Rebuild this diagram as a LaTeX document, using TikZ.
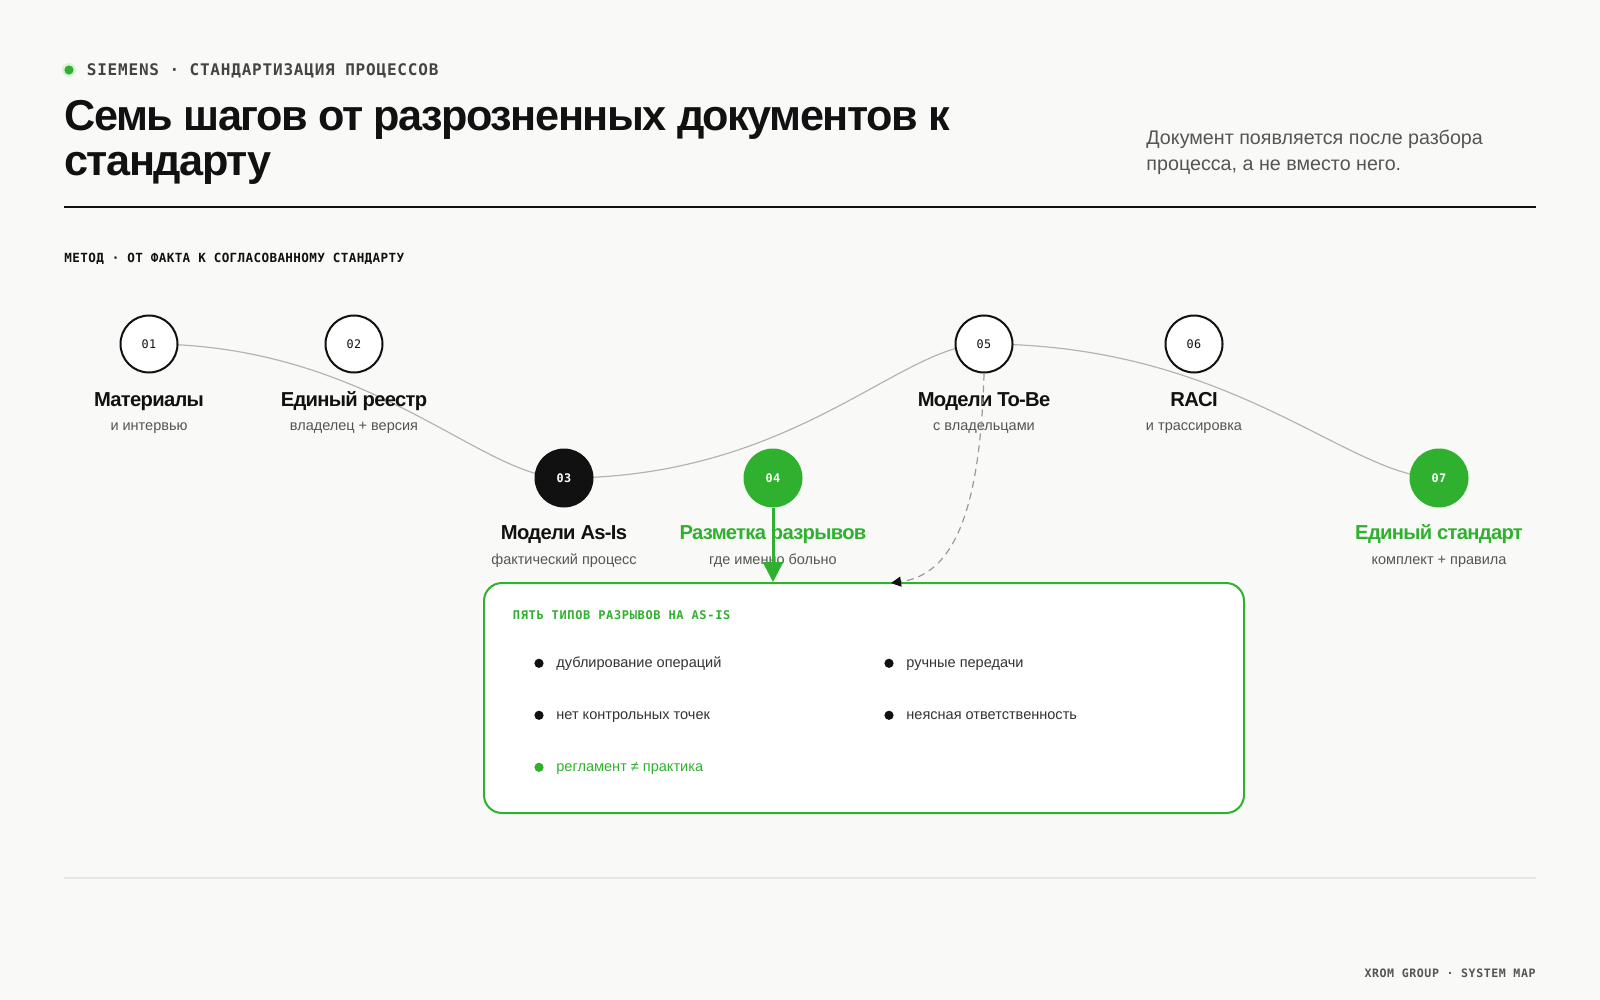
\documentclass[tikz,border=0pt]{standalone}
\usepackage{fontspec}
\setmainfont{Liberation Sans}
\newfontfamily\mono{DejaVu Sans Mono}
\newfontfamily\symfont{DejaVu Sans}
\usetikzlibrary{arrows.meta,calc}
\definecolor{bg}{HTML}{F9F9F7}
\definecolor{grn}{HTML}{2FB12F}
\definecolor{ink}{HTML}{111111}
\definecolor{mid}{HTML}{555555}
\definecolor{dark}{HTML}{333333}
\definecolor{curvegray}{HTML}{B4B4B4}
\definecolor{dashgray}{HTML}{9A9A9A}
\definecolor{rulelight}{HTML}{E6E6E4}
\pgfdeclarelayer{back0}
\pgfdeclarelayer{back1}
\pgfsetlayers{back0,back1,main}
\tikzset{
  monohead/.style={anchor=base west, inner sep=0pt, font=\mono\bfseries\fontsize{8}{9}\selectfont\addfontfeatures{LetterSpace=5}},
  monosmall/.style={inner sep=0pt, font=\mono\bfseries\fontsize{6.3}{8}\selectfont\addfontfeatures{LetterSpace=3}},
  titleline/.style={anchor=base west, inner sep=0pt, text=ink, font=\bfseries\fontsize{21.6}{24}\selectfont\addfontfeatures{LetterSpace=-3.5}},
  leadline/.style={anchor=base west, inner sep=0pt, text=mid, font=\fontsize{9.85}{11}\selectfont},
  stepbase/.style={circle, minimum size=28.5pt, inner sep=0pt, line width=1pt, font=\mono\fontsize{5.9}{7}\selectfont\addfontfeatures{LetterSpace=4}},
  stepo/.style={stepbase, draw=ink, fill=white, text=ink},
  stepk/.style={stepbase, draw=ink, fill=ink, text=white, font=\mono\bfseries\fontsize{5.9}{7}\selectfont\addfontfeatures{LetterSpace=4}},
  stepg/.style={stepbase, draw=grn, fill=grn, text=white, font=\mono\bfseries\fontsize{5.9}{7}\selectfont\addfontfeatures{LetterSpace=4}},
  lbl/.style={anchor=base, inner sep=0pt, text=ink, font=\bfseries\fontsize{10.1}{12}\selectfont\addfontfeatures{LetterSpace=-3.5}},
  lblg/.style={lbl, text=grn},
  sub/.style={anchor=base, inner sep=0pt, text=mid, font=\fontsize{7.25}{9}\selectfont},
  flow/.style={draw=curvegray, line width=0.6pt},
  bdot/.style={circle, fill=ink, minimum size=4.6pt, inner sep=0pt},
  btext/.style={anchor=base west, inner sep=0pt, text=dark, font=\fontsize{7.27}{9}\selectfont},
}
\begin{document}
\begin{tikzpicture}[x=0.5pt,y=-0.5pt]
\useasboundingbox (0,0) rectangle (1600,1000);
\begin{pgfonlayer}{back0}
\fill[bg] (0,0) rectangle (1600,1000);
\end{pgfonlayer}

% header
\node[circle, fill=grn!18, minimum size=7pt, inner sep=0pt] (halo) at (69,70) {};
\node[circle, fill=grn, minimum size=4.6pt, inner sep=0pt] (dot) at (69,70) {};
\node[monohead, text=mid!80!black] (kicker) at (86.5,75.7) {SIEMENS · СТАНДАРТИЗАЦИЯ ПРОЦЕССОВ};
\node[titleline] (title1) at (64,131) {Семь шагов от разрозненных документов к};
\node[titleline] (title2) at (64,176) {стандарту};
\node[leadline] (lead1) at (1146,144.3) {Документ появляется после разбора};
\node[leadline] (lead2) at (1146,170.7) {процесса, а не вместо него.};
\draw[ink, line width=0.65pt] (64,207) -- (1536,207);

\node[monosmall, anchor=base west, text=ink] (method) at (64,262.3) {МЕТОД · ОТ ФАКТА К СОГЛАСОВАННОМУ СТАНДАРТУ};

% steps
\node[stepo] (c1) at (149,344) {01};
\node[stepo] (c2) at (354,344) {02};
\node[stepk] (c3) at (564,478) {03};
\node[stepg] (c4) at (773,478) {04};
\node[stepo] (c5) at (984,344) {05};
\node[stepo] (c6) at (1194,344) {06};
\node[stepg] (c7) at (1439,478) {07};

\node[lbl] (t1) at (149,406) {Материалы};
\node[sub] (s1) at (149,430) {и интервью};
\node[lbl] (t2) at (354,406) {Единый реестр};
\node[sub] (s2) at (354,430) {владелец + версия};
\node[lbl] (t3) at (564,539.5) {Модели As-Is};
\node[sub] (s3) at (564,564.5) {фактический процесс};
\node[lblg] (t4) at (773,539.5) {Разметка разрывов};
\node[sub] (s4) at (773,564.5) {где именно больно};
\node[lbl] (t5) at (984,406) {Модели To-Be};
\node[sub] (s5) at (984,430) {с владельцами};
\node[lbl] (t6) at (1194,406) {RACI};
\node[sub] (s6) at (1194,430) {и трассировка};
\node[lblg] (t7) at (1439,539.5) {Единый стандарт};
\node[sub] (s7) at (1439,564.5) {комплект + правила};

\begin{pgfonlayer}{back1}
\draw[flow] (c1.center) .. controls (370,344) and (481,478) .. (c3.center);
\draw[flow] (c3.center) .. controls (795,478) and (900,344) .. (c5.center);
\draw[flow] (c5.center) .. controls (1234,344) and (1348,478) .. (c7.center);
\end{pgfonlayer}

% gap box
\node[draw=grn, line width=1pt, fill=white, rounded corners=9pt, minimum width=380pt, minimum height=115pt, inner sep=0pt] (box) at (864,698) {};
\node[monosmall, anchor=base west, text=grn, font=\mono\bfseries\fontsize{6}{8}\selectfont\addfontfeatures{LetterSpace=5.5}] (boxtitle) at (512.5,619.5) {ПЯТЬ ТИПОВ РАЗРЫВОВ НА AS-IS};

\node[bdot] (d1) at (539,663.3) {};
\node[btext] (b1) at (556,667.3) {дублирование операций};
\node[bdot] (d2) at (889,663.3) {};
\node[btext] (b2) at (906,667.3) {ручные передачи};
\node[bdot] (d3) at (539,715.3) {};
\node[btext] (b3) at (556,719.3) {нет контрольных точек};
\node[bdot] (d4) at (889,715.3) {};
\node[btext] (b4) at (906,719.3) {неясная ответственность};
\node[bdot, fill=grn] (d5) at (539,767.3) {};
\node[btext, text=grn] (b5) at (556,771.3) {регламент ≠ практика};

% connectors to the box
\draw[grn, line width=1.5pt, -{Triangle[length=10pt,width=10pt]}] (c4.south) -- (c4 |- box.north);
\coordinate (dashend) at (891,583);
\draw[dashgray, line width=0.6pt, dash pattern=on 3.5pt off 2.5pt, -{Triangle[length=5pt,width=5pt,color=ink]}]
  (c5.south) .. controls (980,520) and (950,575) .. (dashend);

% footer
\draw[rulelight, line width=1pt] (64,878) -- (1536,878);
\node[monosmall, anchor=base east, text=mid, font=\mono\bfseries\fontsize{5.8}{7}\selectfont\addfontfeatures{LetterSpace=5}] (footer) at (1536,977.6) {XROM GROUP · SYSTEM MAP};
\end{tikzpicture}
\end{document}
